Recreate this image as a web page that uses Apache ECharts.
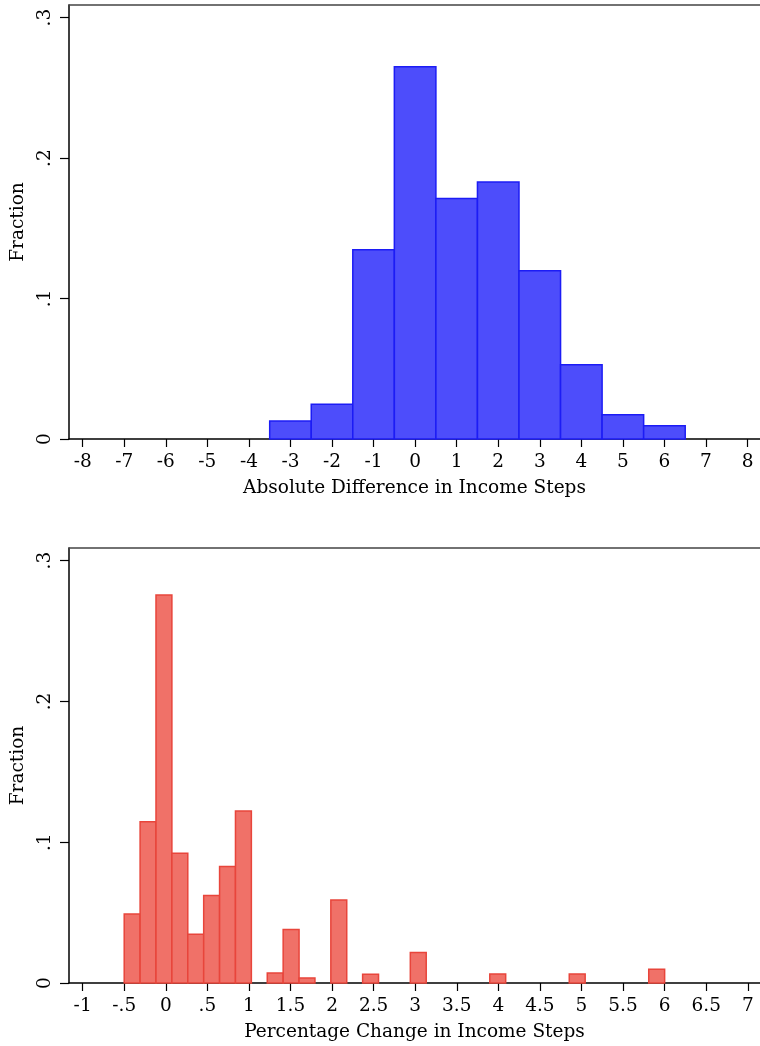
<!DOCTYPE html>
<html><head><meta charset="utf-8">
<script src="https://cdn.jsdelivr.net/npm/echarts@6/dist/echarts.min.js"></script>
<style>html,body{margin:0;padding:0;background:#fff}#c{width:760px;height:1046px}</style>
</head><body><div id="c"></div>
<script>
// ---- Data: top histogram (absolute difference, bin width 1) ----
const absCenters   = [-3, -2, -1, 0, 1, 2, 3, 4, 5, 6];
const absFractions = [0.0128, 0.0247, 0.1347, 0.265, 0.1713, 0.1829, 0.1198, 0.0529, 0.0173, 0.0095];
const absBinWidth  = 1;
const absTickValues = [-8,-7,-6,-5,-4,-3,-2,-1,0,1,2,3,4,5,6,7,8];
const absTickLabels = ['-8','-7','-6','-5','-4','-3','-2','-1','0','1','2','3','4','5','6','7','8'];

// ---- Data: bottom histogram (percentage change) ----
const pctCenters   = [-0.4044, -0.2132, -0.0221, 0.1691, 0.3603, 0.5515, 0.7427, 0.9338,
                      1.3162, 1.5074, 1.6985, 2.0809, 2.4632, 3.0368, 3.9926, 4.9485, 5.9044];
const pctFractions = [0.0491, 0.1146, 0.2757, 0.0921, 0.0347, 0.0622, 0.0828, 0.1222,
                      0.0071, 0.038, 0.0036, 0.0589, 0.0062, 0.0216, 0.0064, 0.0064, 0.0098];
const pctBinWidth  = 0.19118;
const pctTickValues = [-1,-0.5,0,0.5,1,1.5,2,2.5,3,3.5,4,4.5,5,5.5,6,6.5,7];
const pctTickLabels = ['-1','-.5','0','.5','1','1.5','2','2.5','3','3.5','4','4.5','5','5.5','6','6.5','7'];

const yTickValues = [0, 0.1, 0.2, 0.3];
const yTickLabels = ['0', '.1', '.2', '.3'];

const FONT = 'DejaVu Serif';
const FS = 18.5;

function histItem(width, fill, stroke) {
  return function (params, api) {
    const c = api.value(0), v = api.value(1);
    const p0 = api.coord([c - width / 2, 0]);
    const p1 = api.coord([c + width / 2, v]);
    return {
      type: 'rect',
      shape: { x: p0[0], y: p1[1], width: p1[0] - p0[0], height: p0[1] - p1[1] },
      style: { fill: fill, stroke: stroke, lineWidth: 1.5 }
    };
  };
}
function lookup(vals, labels) {
  return function (v) {
    for (let i = 0; i < vals.length; i++) if (Math.abs(vals[i] - v) < 1e-9) return labels[i];
    return '';
  };
}
function xAxis(grid, min, max, vals, labels, name) {
  return {
    type: 'value', gridIndex: grid, min: min, max: max, position: 'bottom',
    axisLine: { show: true, onZero: false, lineStyle: { color: '#000', width: 1.5 } },
    axisTick: { show: true, customValues: vals, length: 8, lineStyle: { color: '#000', width: 1.2 } },
    axisLabel: { customValues: vals, formatter: lookup(vals, labels), margin: 14,
                 fontFamily: FONT, fontSize: FS, color: '#000' },
    splitLine: { show: false },
    name: name, nameLocation: 'middle', nameGap: 40,
    nameTextStyle: { fontFamily: FONT, fontSize: FS, color: '#000' }
  };
}
function topFrame(grid, min, max) {
  return {
    type: 'value', gridIndex: grid, min: min, max: max, position: 'top',
    axisLine: { show: true, onZero: false, lineStyle: { color: '#444', width: 1.5 } },
    axisTick: { show: false }, axisLabel: { show: false }, splitLine: { show: false }
  };
}
function yAxis(grid) {
  return {
    type: 'value', gridIndex: grid, min: 0, max: 0.309, position: 'left',
    axisLine: { show: true, onZero: false, lineStyle: { color: '#000', width: 1.5 } },
    axisTick: { show: true, customValues: yTickValues, length: 9, lineStyle: { color: '#000', width: 1.2 } },
    axisLabel: { customValues: yTickValues, formatter: lookup(yTickValues, yTickLabels), rotate: 90,
                 margin: 14, fontFamily: FONT, fontSize: FS, color: '#000' },
    splitLine: { show: false },
    name: 'Fraction', nameLocation: 'middle', nameGap: 40, nameRotate: 90,
    nameTextStyle: { fontFamily: FONT, fontSize: FS, color: '#000' }
  };
}

const chart = echarts.init(document.getElementById('c'), null, { renderer: 'canvas' });
chart.setOption({
  backgroundColor: '#fff',
  animation: false,
  grid: [
    { left: 69, top: 5, width: 696, height: 434, show: false },
    { left: 69, top: 548, width: 696, height: 435, show: false }
  ],
  xAxis: [
    xAxis(0, -8.33, 8.3, absTickValues, absTickLabels, 'Absolute Difference in Income Steps'),
    xAxis(1, -1.164, 7.147, pctTickValues, pctTickLabels, 'Percentage Change in Income Steps'),
    topFrame(0, -8.33, 8.3),
    topFrame(1, -1.164, 7.147)
  ],
  yAxis: [yAxis(0), yAxis(1)],
  series: [
    { type: 'custom', xAxisIndex: 0, yAxisIndex: 0,
      renderItem: histItem(absBinWidth, '#4d4dfb', '#1c1cf5'),
      data: absCenters.map((c, i) => [c, absFractions[i]]) },
    { type: 'custom', xAxisIndex: 1, yAxisIndex: 1,
      renderItem: histItem(pctBinWidth, '#f07168', '#e8453b'),
      data: pctCenters.map((c, i) => [c, pctFractions[i]]) }
  ]
});
</script></body></html>
